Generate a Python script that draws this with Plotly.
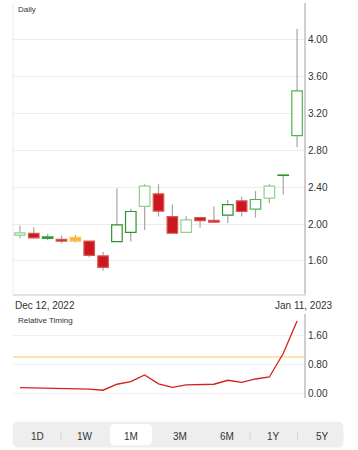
import plotly.graph_objects as go

# ---------------- data ----------------
dates = ["Dec 12, 2022", "Dec 13, 2022", "Dec 14, 2022", "Dec 15, 2022", "Dec 16, 2022",
         "Dec 19, 2022", "Dec 20, 2022", "Dec 21, 2022", "Dec 22, 2022", "Dec 23, 2022",
         "Dec 27, 2022", "Dec 28, 2022", "Dec 29, 2022", "Dec 30, 2022", "Jan 3, 2023",
         "Jan 4, 2023", "Jan 5, 2023", "Jan 6, 2023", "Jan 9, 2023", "Jan 10, 2023",
         "Jan 11, 2023"]
opens = [1.88, 1.90, 1.86, 1.835, 1.855, 1.815, 1.655, 1.81, 1.91, 2.19, 2.325,
         2.08, 1.91, 2.07, 2.04, 2.095, 2.25, 2.16, 2.28, 2.525, 2.955]
closes = [1.905, 1.85, 1.845, 1.815, 1.815, 1.66, 1.53, 1.99, 2.135, 2.41, 2.14,
          1.90, 2.045, 2.035, 2.02, 2.21, 2.135, 2.265, 2.41, 2.53, 3.44]
highs = [1.98, 1.965, 1.895, 1.875, 1.88, 1.815, 1.70, 2.385, 2.165, 2.43, 2.43,
         2.21, 2.085, 2.07, 2.19, 2.26, 2.295, 2.355, 2.43, 2.53, 4.11]
lows = [1.845, 1.84, 1.825, 1.79, 1.80, 1.64, 1.495, 1.81, 1.81, 1.935, 2.08,
        1.90, 1.91, 1.96, 2.02, 2.01, 2.08, 2.07, 2.225, 2.32, 2.83]
relative_timing = [0.157, 0.15, 0.145, 0.14, 0.135, 0.115, 0.085, 0.25, 0.32, 0.505, 0.26,
                   0.165, 0.23, 0.24, 0.25, 0.36, 0.30, 0.395, 0.45, 1.10, 2.00]
timing_threshold = 1.0
price_ticks = [1.60, 2.00, 2.40, 2.80, 3.20, 3.60, 4.00]
timing_ticks = [0.00, 0.80, 1.60]
periods = ["1D", "1W", "1M", "3M", "6M", "1Y", "5Y"]
selected_period = "1M"

# ---------------- styles ----------------
candle_kind = ["hl", "r", "g", "r", "o", "r", "r", "hd", "hd", "hl", "r",
               "r", "hl", "r", "r", "hd", "r", "hm", "hl", "hd", "hm"]
STYLE = {
    "hl": ("#ffffff", "#8fd18f"),
    "hd": ("#ffffff", "#2f912f"),
    "hm": ("#ffffff", "#55b055"),
    "r": ("#c9181e", "#dd5555"),
    "g": ("#3a9a3a", "#3a9a3a"),
    "o": ("#f7b733", "#f9c55a"),
}
FONT = "Liberation Sans"
TXT = "#333333"

W, H = 358, 450
ML, MR, MT, MB = 13, 54, 3, 2
PW, PH = W - ML - MR, H - MT - MB


def px(x):
    return (x - ML) / PW


def py(y):
    return (H - MB - y) / PH


n = len(dates)
idx = list(range(n))

fig = go.Figure()

# wicks (thin bars, drawn first so bodies cover them)
fig.add_trace(go.Bar(
    x=idx, base=lows, y=[h - l for h, l in zip(highs, lows)],
    width=0.085, marker=dict(color="#a3a3a3", line=dict(width=0)),
    xaxis="x", yaxis="y", showlegend=False, hoverinfo="skip"))

# bodies
fig.add_trace(go.Bar(
    x=idx, base=[min(o, c) for o, c in zip(opens, closes)],
    y=[abs(c - o) for o, c in zip(opens, closes)],
    width=0.76,
    marker=dict(color=[STYLE[k][0] for k in candle_kind],
                line=dict(color=[STYLE[k][1] for k in candle_kind], width=1.2)),
    xaxis="x", yaxis="y", showlegend=False, hoverinfo="skip"))

# relative timing
fig.add_trace(go.Scatter(
    x=idx, y=relative_timing, mode="lines",
    line=dict(color="#d42020", width=1.3),
    xaxis="x2", yaxis="y2", showlegend=False, hoverinfo="skip"))

top_dom = [py(294), 1.0]
bot_dom = [py(398), py(314)]

fig.update_layout(
    width=W, height=H,
    margin=dict(l=ML, r=MR, t=MT, b=MB),
    paper_bgcolor="white", plot_bgcolor="white",
    barmode="overlay", hovermode=False,
    font=dict(family=FONT, size=10, color=TXT),
    xaxis=dict(domain=[0, 1], range=[-0.5, n - 0.5], showgrid=False, zeroline=False,
               showticklabels=False, ticks="", showline=True, linecolor="#e2e2e2",
               linewidth=2, anchor="y", fixedrange=True),
    yaxis=dict(domain=top_dom, range=[1.243, 4.39], side="right", anchor="x",
               tickvals=price_ticks, ticktext=[f"{v:.2f}" for v in price_ticks],
               showgrid=True, gridcolor="#ececec", gridwidth=1, zeroline=False,
               showline=True, linecolor="#cfcfcf", linewidth=2, ticks="",
               tickfont=dict(size=10, color=TXT), fixedrange=True),
    xaxis2=dict(domain=[0, 1], range=[-0.5, n - 0.5], showgrid=False, zeroline=False,
                showticklabels=False, ticks="", showline=False, anchor="y2",
                fixedrange=True),
    yaxis2=dict(domain=bot_dom, range=[-0.13, 2.19], side="right", anchor="x2",
                tickvals=timing_ticks, ticktext=[f"{v:.2f}" for v in timing_ticks],
                showgrid=True, gridcolor="#f0f0f0", gridwidth=1, zeroline=False,
                showline=True, linecolor="#cfcfcf", linewidth=2, ticks="",
                tickfont=dict(size=10, color=TXT), fixedrange=True),
)

shapes = []
# left border of price panel
shapes.append(dict(type="line", xref="paper", yref="paper", x0=0, x1=0,
                   y0=top_dom[0], y1=top_dom[1], line=dict(color="#ececec", width=1),
                   layer="below"))
# threshold line in timing panel
shapes.append(dict(type="line", xref="x2 domain", yref="y2", x0=0, x1=1,
                   y0=timing_threshold, y1=timing_threshold,
                   line=dict(color="#fde4ae", width=2), layer="below"))


def rrect(x0, y0, x1, y1, r, fill):
    # rounded rectangle in pixel coordinates -> paper path
    def P(x, y):
        return f"{px(x):.5f},{py(y):.5f}"
    path = (f"M {P(x0 + r, y0)} L {P(x1 - r, y0)} Q {P(x1, y0)} {P(x1, y0 + r)} "
            f"L {P(x1, y1 - r)} Q {P(x1, y1)} {P(x1 - r, y1)} "
            f"L {P(x0 + r, y1)} Q {P(x0, y1)} {P(x0, y1 - r)} "
            f"L {P(x0, y0 + r)} Q {P(x0, y0)} {P(x0 + r, y0)} Z")
    return dict(type="path", xref="paper", yref="paper", path=path,
                fillcolor=fill, line=dict(width=0), layer="above")


shapes.append(rrect(12.7, 421.7, 343.5, 447.5, 6, "#eeeeef"))
centers = [37, 85, 131, 180, 227, 273, 322]
sel = periods.index(selected_period)
shapes.append(rrect(110, 424, 152, 445.2, 5, "#ffffff"))
for i in range(len(periods) - 1):
    if i in (sel - 1, sel, 3):
        continue
    xs = (centers[i] + centers[i + 1]) / 2
    shapes.append(dict(type="line", xref="paper", yref="paper", x0=px(xs), x1=px(xs),
                       y0=py(439.5), y1=py(431.5), line=dict(color="#d2d2d2", width=1),
                       layer="above"))
fig.update_layout(shapes=shapes)

ann = []
ann.append(dict(text="Daily", xref="paper", yref="paper", x=px(15.5), y=py(10),
                xanchor="left", yanchor="middle", showarrow=False,
                font=dict(size=8, color=TXT)))
ann.append(dict(text="Relative Timing", xref="paper", yref="paper", x=px(15.5), y=py(320.5),
                xanchor="left", yanchor="middle", showarrow=False,
                font=dict(size=8, color=TXT)))
ann.append(dict(text=dates[0], xref="paper", yref="paper", x=px(12.5), y=py(306),
                xanchor="left", yanchor="middle", showarrow=False,
                font=dict(size=10, color=TXT)))
ann.append(dict(text=dates[-1], xref="paper", yref="paper", x=px(304), y=py(306),
                xanchor="center", yanchor="middle", showarrow=False,
                font=dict(size=10, color=TXT)))
for p, c in zip(periods, centers):
    ann.append(dict(text=p, xref="paper", yref="paper", x=px(c), y=py(436),
                    xanchor="center", yanchor="middle", showarrow=False,
                    font=dict(size=10, color=TXT)))
fig.update_layout(annotations=ann)

fig.write_html("out.html", config={"displayModeBar": False, "staticPlot": True},
               post_script="document.body.style.margin='0';document.body.style.padding='0';")
